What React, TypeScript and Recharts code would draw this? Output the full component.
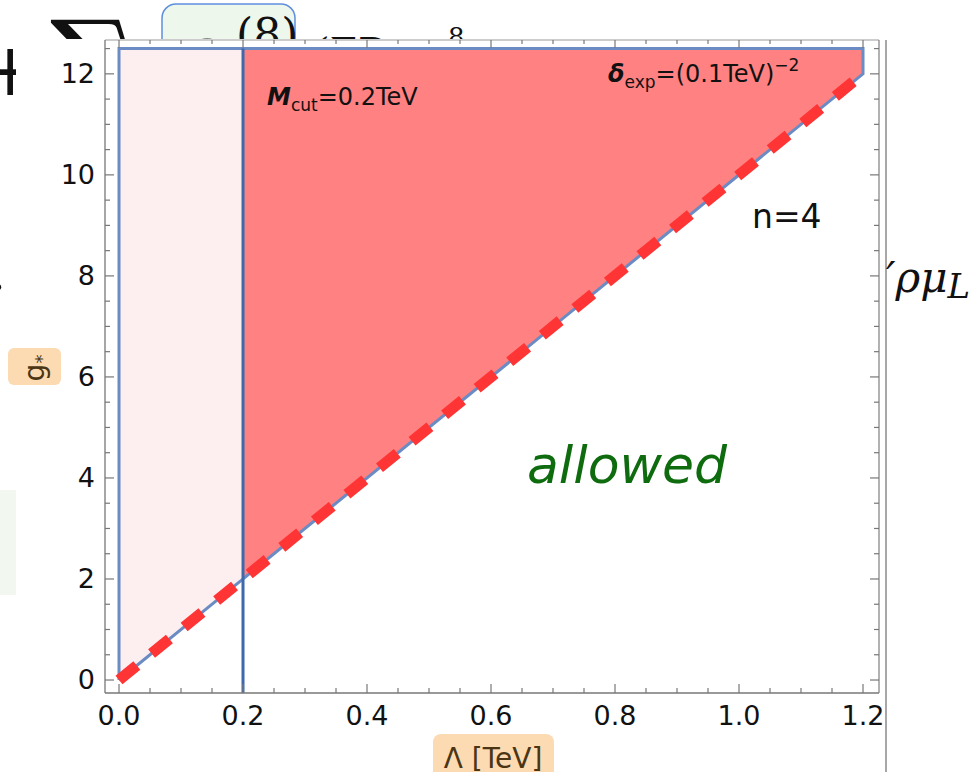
import React from 'react'
import { ComposedChart, Area, Line, XAxis, YAxis } from 'recharts'

// Λ [TeV] ticks: labelled every 0.2, minor every 0.05
const LAMBDA_TICKS = [0, 0.05, 0.1, 0.15, 0.2, 0.25, 0.3, 0.35, 0.4, 0.45, 0.5, 0.55, 0.6, 0.65, 0.7, 0.75, 0.8, 0.85, 0.9, 0.95, 1.0, 1.05, 1.1, 1.15, 1.2]
// g* ticks: labelled every 2, minor every 0.5
const G_TICKS = [0, 0.5, 1, 1.5, 2, 2.5, 3, 3.5, 4, 4.5, 5, 5.5, 6, 6.5, 7, 7.5, 8, 8.5, 9, 9.5, 10, 10.5, 11, 11.5, 12, 12.5]
const LAMBDA_DOMAIN = [-0.0226, 1.2258]
const G_DOMAIN = [-0.257, 12.67]

// top of the shaded regions
const G_MAX = 12.5
const M_CUT = 0.2

// region below M_cut (light pink)
const PINK_LAMBDA = [0, 0.2]
const PINK_G_LOW = [0, 2]

// excluded region above the n=4 bound (red)
const RED_LAMBDA = [0.2, 1.2]
const RED_G_LOW = [2, 12]

// outline of both regions
const EDGE_LAMBDA = [0, 0, 1.2, 1.2, 0]
const EDGE_G = [0, 12.5, 12.5, 12, 0]

// delta_exp bound (dashed)
const BOUND_LAMBDA = [0, 1.2]
const BOUND_G = [0, 12]

const pinkData = PINK_LAMBDA.map((x, i) => ({ x, g: [PINK_G_LOW[i], G_MAX] }))
const redData = RED_LAMBDA.map((x, i) => ({ x, g: [RED_G_LOW[i], G_MAX] }))
const edgeData = EDGE_LAMBDA.map((x, i) => ({ x, g: EDGE_G[i] }))
const cutData = [{ x: M_CUT, g: G_DOMAIN[0] }, { x: M_CUT, g: G_MAX }]
const boundData = BOUND_LAMBDA.map((x, i) => ({ x, g: BOUND_G[i] }))

const FONT = '"DejaVu Sans", sans-serif'
const SERIF = '"DejaVu Serif", serif'
const AXIS = '#777'

const isMajor = (v: number, step: number) => Math.abs(v / step - Math.round(v / step)) < 1e-6

const BottomTick = (props: any) => {
    const { x, y, payload } = props
    const major = isMajor(payload.value, 0.2)
    return (
        <g>
            <line x1={x} x2={x} y1={y} y2={y - (major ? 9 : 5)} stroke={AXIS} strokeWidth={1.2} />
            {major && (
                <text x={x} y={y + 32} textAnchor="middle" fontSize={27} fontFamily={FONT} fill="#111">
                    {payload.value.toFixed(1)}
                </text>
            )}
        </g>
    )
}

const TopTick = (props: any) => {
    const { x, y, payload } = props
    const major = isMajor(payload.value, 0.2)
    return <line x1={x} x2={x} y1={y} y2={y + (major ? 8 : 4)} stroke={AXIS} strokeWidth={1.2} />
}

const LeftTick = (props: any) => {
    const { x, y, payload } = props
    const major = isMajor(payload.value, 2)
    return (
        <g>
            <line x1={x} x2={x + (major ? 9 : 5)} y1={y} y2={y} stroke={AXIS} strokeWidth={1.2} />
            {major && (
                <text x={x - 10} y={y + 9} textAnchor="end" fontSize={27} fontFamily={FONT} fill="#111">
                    {payload.value}
                </text>
            )}
        </g>
    )
}

const RightTick = (props: any) => {
    const { x, y, payload } = props
    const major = isMajor(payload.value, 2)
    return <line x1={x} x2={x - (major ? 9 : 5)} y1={y} y2={y} stroke={AXIS} strokeWidth={1.2} />
}

export default function App() {
    return (
        <div style={{ position: 'absolute', left: 0, top: 0, width: 980, height: 772, overflow: 'hidden', background: '#fff' }}>
            {/* slide behind the plot: strip above it */}
            <svg width={980} height={39} style={{ position: 'absolute', left: 0, top: 0 }}>
                <text x={50} y={106} fontSize={120} fontFamily={SERIF} fill="#111">∑</text>
                <rect x={162} y={4} width={133} height={80} rx={14} fill="#eef7ec" stroke="#5e8fdd" strokeWidth={1.5} />
                <text x={180} y={80} fontSize={56} fontStyle="italic" fontFamily={SERIF} fill="#111">O</text>
                <text x={236} y={50} fontSize={44} fontFamily={SERIF} fill="#111">(8)</text>
                <text x={314} y={66} fontSize={40} fontFamily={SERIF} fill="#111">(ΣD<tspan fontStyle="italic">ρ</tspan></text>
                <text x={448} y={46} fontSize={26} fontFamily={SERIF} fill="#111">8</text>
            </svg>
            {/* slide behind the plot: strip at its left */}
            <svg width={16} height={772} style={{ position: 'absolute', left: 0, top: 0 }}>
                <text x={-20} y={95} fontSize={72} fontFamily={SERIF} fill="#111">+</text>
                <text x={-10} y={290} fontSize={50} fontFamily={SERIF} fill="#111">.</text>
                <rect x={0} y={490} width={16} height={105} fill="#f2f8ef" />
            </svg>

            <div style={{ position: 'absolute', left: 0, top: 0 }}>
                <ComposedChart width={980} height={772} margin={{ top: 30, right: 91, bottom: 39, left: 65 }}>
                    <XAxis
                        dataKey="x"
                        type="number"
                        domain={LAMBDA_DOMAIN}
                        ticks={LAMBDA_TICKS}
                        interval={0}
                        allowDataOverflow
                        height={40}
                        tickLine={false}
                        tickSize={0}
                        tickMargin={0}
                        tick={<BottomTick />}
                        axisLine={{ stroke: AXIS, strokeWidth: 1.3 }}
                    />
                    <XAxis
                        xAxisId="top"
                        orientation="top"
                        dataKey="x"
                        type="number"
                        domain={LAMBDA_DOMAIN}
                        ticks={LAMBDA_TICKS}
                        interval={0}
                        allowDataOverflow
                        height={10}
                        tickLine={false}
                        tickSize={0}
                        tickMargin={0}
                        tick={<TopTick />}
                        axisLine={{ stroke: '#999', strokeWidth: 1 }}
                    />
                    <YAxis
                        type="number"
                        domain={G_DOMAIN}
                        ticks={G_TICKS}
                        interval={0}
                        allowDataOverflow
                        width={40}
                        tickLine={false}
                        tickSize={0}
                        tickMargin={0}
                        tick={<LeftTick />}
                        axisLine={{ stroke: AXIS, strokeWidth: 1.3 }}
                    />
                    <YAxis
                        yAxisId="right"
                        orientation="right"
                        type="number"
                        domain={G_DOMAIN}
                        ticks={G_TICKS}
                        interval={0}
                        allowDataOverflow
                        width={10}
                        tickLine={false}
                        tickSize={0}
                        tickMargin={0}
                        tick={<RightTick />}
                        axisLine={{ stroke: '#888', strokeWidth: 1.3 }}
                    />

                    <Area data={pinkData} dataKey="g" type="linear" stroke="none" fill="#fdeff0" fillOpacity={1} isAnimationActive={false} />
                    <Area data={redData} dataKey="g" type="linear" stroke="none" fill="#ff8181" fillOpacity={1} isAnimationActive={false} />
                    <Line data={edgeData} dataKey="g" type="linear" stroke="#6a8bc4" strokeWidth={3} dot={false} activeDot={false} isAnimationActive={false} />
                    <Line data={cutData} dataKey="g" type="linear" stroke="#3f69ad" strokeWidth={3} dot={false} activeDot={false} isAnimationActive={false} />
                    <Line data={boundData} dataKey="g" type="linear" stroke="#ff3434" strokeWidth={11} strokeDasharray="23 19" dot={false} activeDot={false} isAnimationActive={false} />
                </ComposedChart>
            </div>

            {/* annotations on top */}
            <svg width={980} height={772} style={{ position: 'absolute', left: 0, top: 0, pointerEvents: 'none' }}>
                <text x={267} y={105} fontSize={24} fontFamily={FONT} fill="#111">
                    <tspan fontStyle="italic" fontWeight="bold">M</tspan>
                    <tspan fontSize={17} dy={6}>cut</tspan>
                    <tspan dy={-6}>=0.2TeV</tspan>
                </text>
                <text x={608} y={82} fontSize={24} fontFamily={FONT} fill="#111">
                    <tspan fontStyle="italic" fontWeight="bold">δ</tspan>
                    <tspan fontSize={17} dy={6}>exp</tspan>
                    <tspan dy={-6}>=(0.1TeV)</tspan>
                    <tspan fontSize={17} dy={-11}>−2</tspan>
                </text>
                <text x={752} y={228} fontSize={33} fontFamily={FONT} fill="#111">n=4</text>
                <text x={527} y={483} fontSize={52} fontStyle="italic" fontFamily={FONT} fill="#0e6b0e">allowed</text>

                <rect x={8} y={348} width={53} height={37} rx={6} fill="#fcdab2" />
                <text transform="rotate(-90 34 366)" x={32} y={376} textAnchor="middle" fontSize={28} fontFamily={FONT} fill="#4a3514">
                    g<tspan fontSize={18} dy={4}>*</tspan>
                </text>
                <rect x={433} y={734} width={121} height={50} rx={8} fill="#fcdab2" />
                <text x={493} y={768} textAnchor="middle" fontSize={28} fontFamily={FONT} fill="#4a3514">Λ [TeV]</text>

                <line x1={886} x2={886} y1={40} y2={772} stroke="#8a8a8a" strokeWidth={1.5} />
                <text x={886} y={292} fontSize={42} fontStyle="italic" fontFamily={SERIF} fill="#111">
                    ′ρμ<tspan fontSize={34} dy={6}>L</tspan>
                </text>
            </svg>
        </div>
    )
}
